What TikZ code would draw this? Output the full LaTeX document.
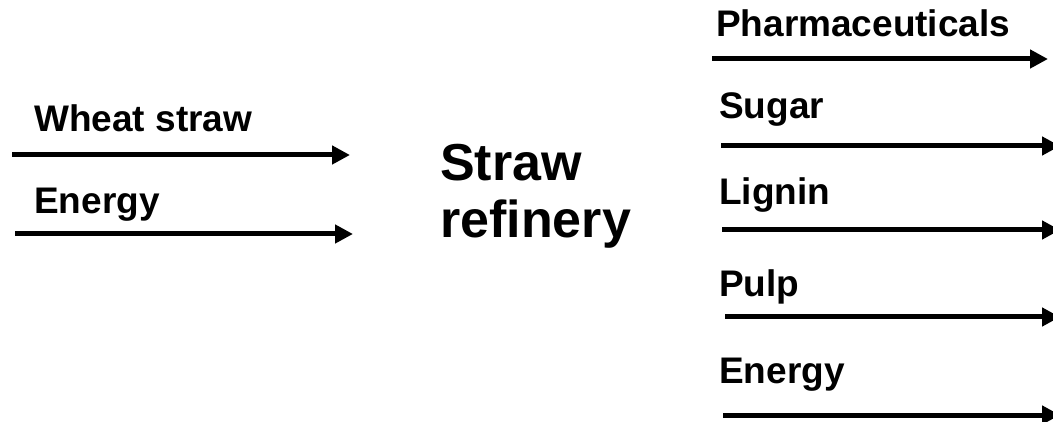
\documentclass[tikz,border=0pt]{standalone}
\usepackage{fontspec}
\setmainfont{Liberation Sans}
\usetikzlibrary{arrows.meta,positioning}

\begin{document}
\begin{tikzpicture}
          [ x=1pt, y=-1pt,
            flow/.style={
              draw,
              line width=5pt,
              -{Triangle[length=18pt,width=18pt]},
            },
            tag/.style={
              anchor=base west,
              inner sep=0pt,
              font=\bfseries\fontsize{37}{42}\selectfont},
            title/.style={
              anchor=base west,
              inner sep=0pt,
              font=\bfseries\fontsize{52}{60}\selectfont},
          ]

          \clip (0,0) rectangle (1053,422);

          % inputs
          \coordinate (wheatA) at (12,155);   \coordinate (wheatB) at (350,155);
          \coordinate (powerA) at (15,234);   \coordinate (powerB) at (353,234);
          \node (wheat) [tag] at (34,132) {Wheat straw};
          \node (power) [tag] at (34,214) {Energy};

          % refinery
          \node (straw) [title] at (440,181) {Straw};
          \node (refinery) [title] at (440,238) {refinery};

          % outputs
          \coordinate (pharmaA) at (712,59);  \coordinate (pharmaB) at (1048,59);
          \coordinate (sugarA) at (721,146);  \coordinate (sugarB) at (1060,146);
          \coordinate (ligninA) at (722,230); \coordinate (ligninB) at (1060,230);
          \coordinate (pulpA) at (725,317);   \coordinate (pulpB) at (1060,317);
          \coordinate (energyA) at (723,415); \coordinate (energyB) at (1060,415);
          \node (pharma) [tag] at (716,37) {Pharmaceuticals};
          \node (sugar) [tag] at (719,119) {Sugar};
          \node (lignin) [tag] at (719,205) {Lignin};
          \node (pulp) [tag] at (719,297) {Pulp};
          \node (energy) [tag] at (719,383) {Energy};

          \draw[flow] (wheatA) -- (wheatB);
          \draw[flow] (powerA) -- (powerB);
          \draw[flow] (pharmaA) -- (pharmaB);
          \draw[flow] (sugarA) -- (sugarB);
          \draw[flow] (ligninA) -- (ligninB);
          \draw[flow] (pulpA) -- (pulpB);
          \draw[flow] (energyA) -- (energyB);

        \end{tikzpicture}
\end{document}
